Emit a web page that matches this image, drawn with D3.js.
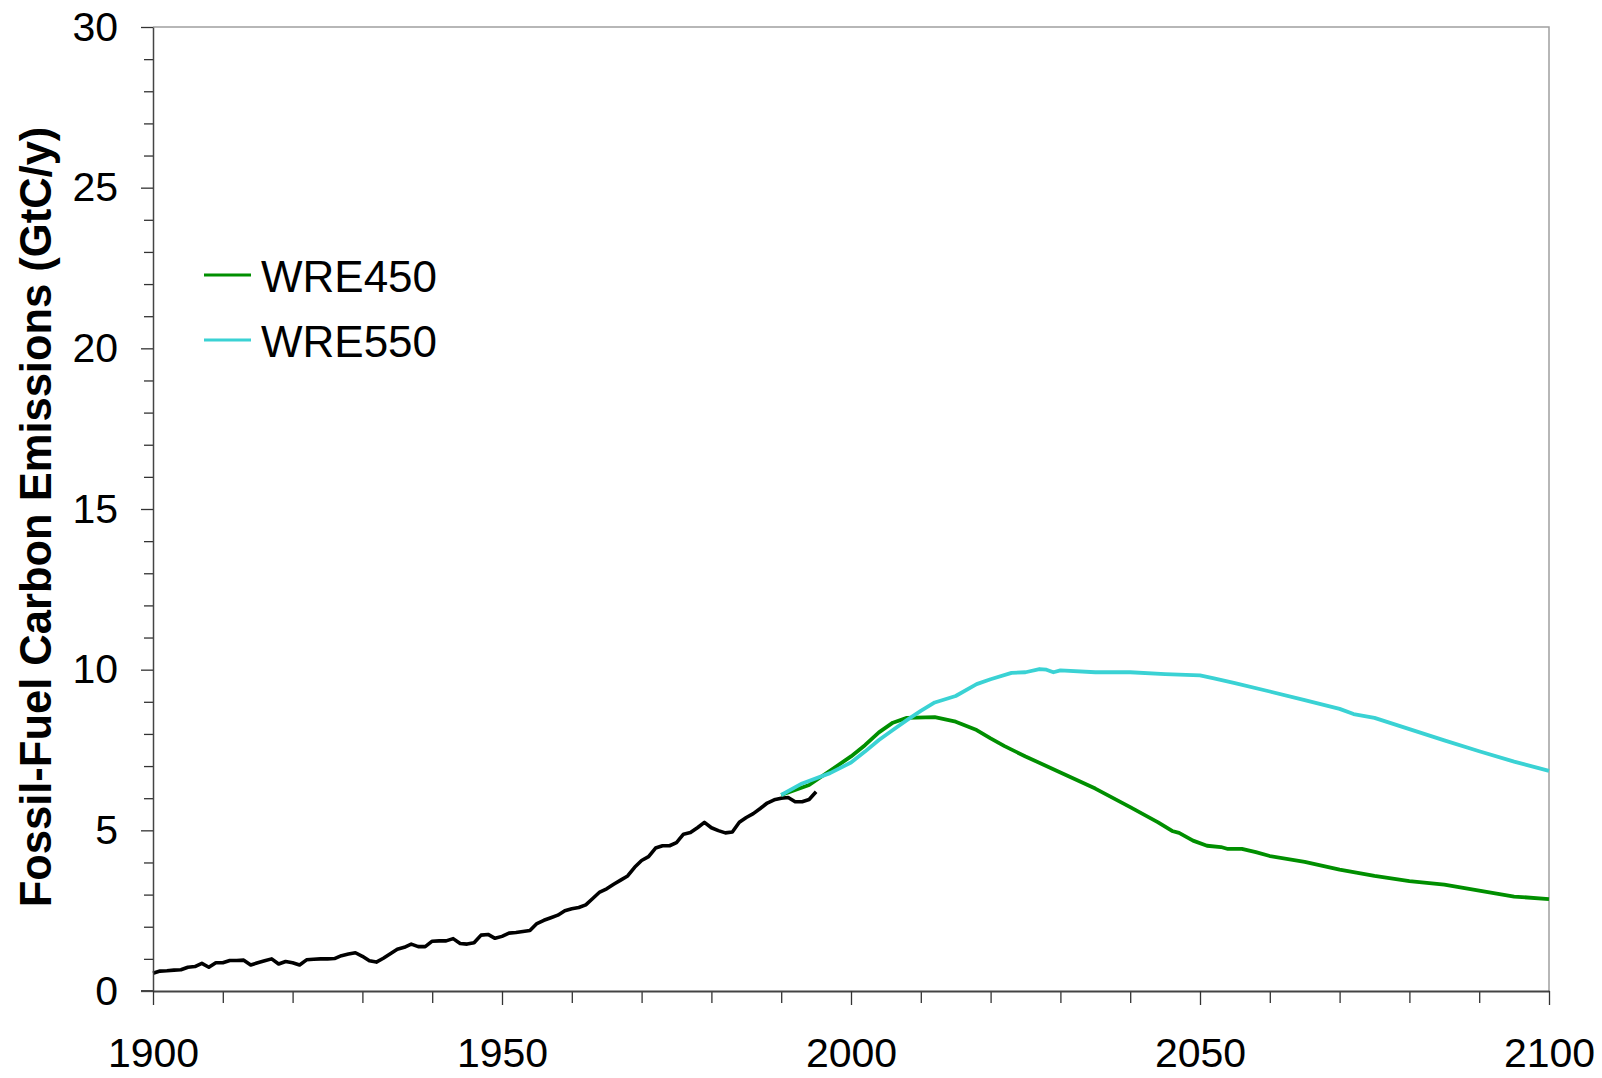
<!DOCTYPE html>
<html>
<head>
<meta charset="utf-8">
<script src="https://cdn.jsdelivr.net/npm/d3@7"></script>
<style>
  body { margin: 0; background: #fff; }
  svg { display: block; font-family: "Liberation Sans", Arial, sans-serif; }
</style>
</head>
<body>
<svg id="chart" width="1602" height="1078"></svg>
<script>
// historical fossil-fuel emissions (black line), 1900-1995
const histYears = d3.range(1900, 1996)
const histValues = [
  0.55, 0.62, 0.63, 0.65, 0.66, 0.74, 0.76, 0.86, 0.74, 0.88,
  0.88, 0.95, 0.95, 0.96, 0.81, 0.88, 0.94, 1.00, 0.84, 0.92,
  0.88, 0.81, 0.97, 0.99, 1.00, 1.00, 1.01, 1.10, 1.15, 1.19,
  1.08, 0.94, 0.90, 1.02, 1.16, 1.30, 1.36, 1.46, 1.38, 1.38,
  1.55, 1.56, 1.56, 1.63, 1.48, 1.46, 1.50, 1.74, 1.76, 1.64,
  1.70, 1.80, 1.82, 1.85, 1.88, 2.10, 2.20, 2.28, 2.36, 2.50,
  2.56, 2.60, 2.68, 2.88, 3.08, 3.18, 3.32, 3.45, 3.58, 3.85,
  4.06, 4.18, 4.45, 4.52, 4.52, 4.62, 4.88, 4.93, 5.08, 5.25,
  5.08, 4.99, 4.92, 4.95, 5.25, 5.40, 5.52, 5.68, 5.85, 5.95,
  6.00, 6.02, 5.89, 5.89, 5.96, 6.20
]

// WRE450 scenario
const wre450Years = [1990, 1994, 2000, 2002, 2004, 2006, 2008, 2012, 2015, 2018, 2020, 2022, 2025, 2030, 2035, 2040,
  2044, 2046, 2047, 2049, 2051, 2053, 2054, 2056, 2058, 2060, 2065, 2070, 2075, 2080, 2085, 2090, 2095, 2100]
const wre450Values = [6.10, 6.41, 7.30, 7.65, 8.05, 8.35, 8.50, 8.52, 8.38, 8.12, 7.86, 7.62, 7.30, 6.80, 6.30, 5.72,
  5.25, 4.98, 4.92, 4.68, 4.52, 4.48, 4.42, 4.42, 4.32, 4.20, 4.02, 3.78, 3.58, 3.42, 3.31, 3.12, 2.94, 2.86]

// WRE550 scenario
const wre550Years = [1990, 1993, 1997, 2000, 2002, 2004, 2006, 2008, 2010, 2012, 2015, 2018, 2020, 2023, 2025, 2027,
  2028, 2029, 2030, 2035, 2040, 2045, 2050, 2052, 2055, 2060, 2065, 2070, 2072, 2075, 2080, 2085, 2090, 2095, 2100]
const wre550Values = [6.10, 6.46, 6.78, 7.11, 7.45, 7.81, 8.12, 8.43, 8.72, 8.98, 9.18, 9.55, 9.70, 9.90, 9.92, 10.02,
  10.00, 9.92, 9.98, 9.92, 9.92, 9.86, 9.82, 9.73, 9.58, 9.32, 9.05, 8.78, 8.62, 8.50, 8.15, 7.80, 7.46, 7.14, 6.85]

const xMajorTicks = [1900, 1950, 2000, 2050, 2100]
const yMajorTicks = [0, 5, 10, 15, 20, 25, 30]

const seriesNames = ["WRE450", "WRE550"]
const seriesColors = ["#008f00", "#3ad2d4"]

// layout
const plotLeft = 153, plotRight = 1549, plotTop = 27, plotBottom = 991

const svg = d3.select("#chart")

const x = d3.scaleLinear().domain([1900, 2100]).range([plotLeft, plotRight])
const y = d3.scaleLinear().domain([0, 30]).range([plotBottom, plotTop])

// plot area border (top + right, light grey)
svg.append("path")
  .attr("d", `M${plotLeft},${plotTop}H${plotRight}V${plotBottom}`)
  .attr("fill", "none")
  .attr("stroke", "#a0a0a0")
  .attr("stroke-width", 1.5)

// lines
const line = d3.line().x(d => x(d[0])).y(d => y(d[1]))

function drawSeries(years, values, color, width) {
  svg.append("path")
    .datum(years.map((yr, i) => [yr, values[i]]))
    .attr("fill", "none")
    .attr("stroke", color)
    .attr("stroke-width", width)
    .attr("stroke-linejoin", "round")
    .attr("d", line)
}

drawSeries(histYears, histValues, "#000", 3.6)
drawSeries(wre450Years, wre450Values, seriesColors[0], 3.8)
drawSeries(wre550Years, wre550Values, seriesColors[1], 3.8)

// y axis
const yMinor = d3.range(0, 31).filter(v => v % 5 != 0)

const yAxisMinor = svg.append("g")
  .attr("transform", `translate(${plotLeft},0)`)
  .call(d3.axisLeft(y).tickValues(yMinor).tickSize(9).tickSizeOuter(0).tickFormat(""))
yAxisMinor.select(".domain").remove()

const yAxis = svg.append("g")
  .attr("transform", `translate(${plotLeft},0)`)
  .call(d3.axisLeft(y).tickValues(yMajorTicks).tickSize(12).tickSizeOuter(0).tickPadding(23))

yAxis.select(".domain").attr("stroke", "#444").attr("stroke-width", 1.5)
yAxis.selectAll("text").attr("font-size", 41).attr("fill", "#000")
  .attr("font-family", "'Liberation Sans', Arial, sans-serif")

// x axis
const xMinor = d3.range(1900, 2101, 10).filter(v => v % 50 != 0)

const xAxisMinor = svg.append("g")
  .attr("transform", `translate(0,${plotBottom})`)
  .call(d3.axisBottom(x).tickValues(xMinor).tickSize(12).tickSizeOuter(0).tickFormat(""))
xAxisMinor.select(".domain").remove()

const xAxis = svg.append("g")
  .attr("transform", `translate(0,${plotBottom})`)
  .call(d3.axisBottom(x).tickValues(xMajorTicks).tickSize(14).tickSizeOuter(0).tickFormat(d3.format("d")).tickPadding(33))

xAxis.select(".domain").attr("stroke", "#444").attr("stroke-width", 2)
xAxis.selectAll("text").attr("font-size", 41).attr("fill", "#000")
  .attr("font-family", "'Liberation Sans', Arial, sans-serif")

svg.selectAll(".tick line").attr("stroke", "#333").attr("stroke-width", 1.3)

// x axis line extends under the 0 tick
svg.append("line")
  .attr("x1", plotLeft - 12).attr("x2", plotLeft)
  .attr("y1", plotBottom).attr("y2", plotBottom)
  .attr("stroke", "#444").attr("stroke-width", 2)

// axis title
svg.append("text")
  .attr("transform", `translate(51,517) rotate(-90)`)
  .attr("text-anchor", "middle")
  .attr("font-size", 43.5)
  .attr("font-weight", "bold")
  .text("Fossil-Fuel Carbon Emissions (GtC/y)")

// legend
const legend = svg.append("g")
seriesNames.forEach((name, i) => {
  const ly = 275 + i * 65
  legend.append("line")
    .attr("x1", 204).attr("x2", 251)
    .attr("y1", ly).attr("y2", ly)
    .attr("stroke", seriesColors[i])
    .attr("stroke-width", 3)
  legend.append("text")
    .attr("x", 261)
    .attr("y", ly + 17)
    .attr("font-size", 44)
    .text(name)
})
</script>
</body>
</html>
